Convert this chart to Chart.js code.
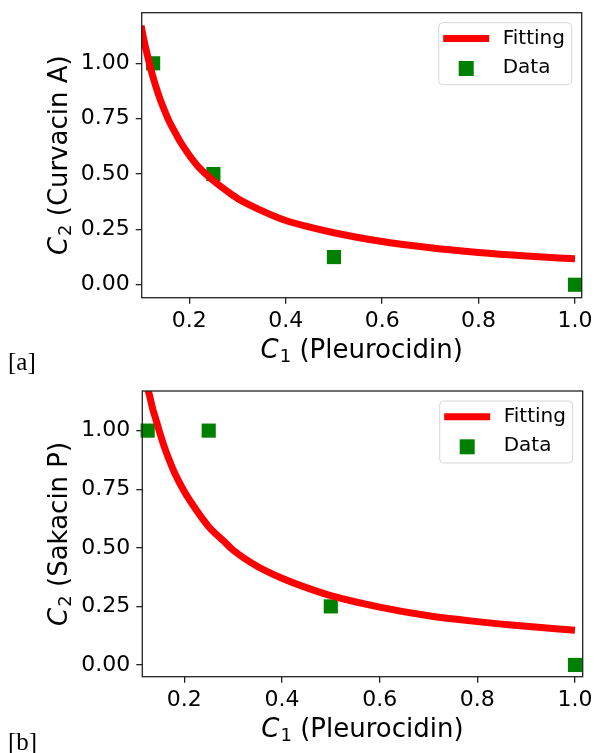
<!DOCTYPE html>
<html>
<head>
<meta charset="utf-8">
<script src="https://cdn.jsdelivr.net/npm/chart.js@4.4.0/dist/chart.umd.min.js"></script>
<style>
body { margin: 0; background: #fff; width: 597px; height: 753px; position: relative; overflow: hidden; }
canvas { position: absolute; left: 0; }
#chartA { top: 0; }
#chartB { top: 376px; }
.panel { position: absolute; left: 8px; font: 25px 'Liberation Serif'; line-height: 26px; color: #000; }
</style>
</head>
<body>
<canvas id="chartA" width="597" height="376"></canvas>
<canvas id="chartB" width="597" height="377"></canvas>
<div class="panel" style="top:349px">[a]</div>
<div class="panel" style="top:729px">[b]</div>
<script>
const xTickValues = [0.2, 0.4, 0.6, 0.8, 1.0]
const yTickValues = [0, 0.25, 0.5, 0.75, 1.0]

// measured points, C1 = Pleurocidin
const c1Data = [0.125, 0.25, 0.5, 1.0]
const curvacinData = [1.0, 0.5, 0.125, 0.0]
const sakacinData = [1.0, 1.0, 0.25, 0.0]

// fitted curves
const fitXA = [0.10, 0.105, 0.11, 0.115, 0.12, 0.13, 0.14, 0.15, 0.16, 0.17, 0.18, 0.20, 0.22, 0.25, 0.28, 0.30, 0.35, 0.40, 0.45, 0.50, 0.60, 0.70, 0.80, 0.90, 1.00]
const fitYA = [1.17, 1.115, 1.065, 1.02, 0.975, 0.90, 0.835, 0.78, 0.73, 0.69, 0.65, 0.585, 0.53, 0.47, 0.42, 0.39, 0.335, 0.29, 0.26, 0.235, 0.195, 0.167, 0.146, 0.13, 0.117]
const fitXB = [0.12, 0.125, 0.13, 0.135, 0.14, 0.15, 0.16, 0.17, 0.18, 0.20, 0.22, 0.25, 0.28, 0.30, 0.35, 0.40, 0.45, 0.50, 0.60, 0.70, 0.80, 0.90, 1.00]
const fitYB = [1.23, 1.18, 1.14, 1.095, 1.06, 0.99, 0.925, 0.87, 0.82, 0.74, 0.675, 0.59, 0.53, 0.49, 0.42, 0.37, 0.33, 0.296, 0.247, 0.21, 0.185, 0.165, 0.148]

const RED = '#ff0000'
const GREEN = '#008000'
const FONT = 'DejaVu Sans'

function drawMathLabel(ctx, sub, rest, x, y, rotate) {
    const ital = `italic 26px '${FONT}'`, small = `18px '${FONT}'`, big = `26px '${FONT}'`
    ctx.font = ital; const wC = ctx.measureText('C').width + 1
    ctx.font = small; const wS = ctx.measureText(sub).width
    ctx.font = big; const wR = ctx.measureText(rest).width
    const total = wC + wS + wR
    ctx.save()
    ctx.translate(x, y)
    if (rotate) ctx.rotate(-Math.PI / 2)
    ctx.textBaseline = 'alphabetic'
    ctx.textAlign = 'left'
    ctx.fillStyle = '#000'
    let cx = -total / 2
    ctx.font = ital; ctx.fillText('C', cx, 0); cx += wC
    ctx.font = small; ctx.fillText(sub, cx, 4); cx += wS
    ctx.font = big; ctx.fillText(rest, cx, 0)
    ctx.restore()
}

const axisDecor = {
    id: 'axisDecor',
    afterDraw(chart, args, opts) {
        const ctx = chart.ctx
        const a = chart.chartArea
        ctx.save()
        // frame
        ctx.strokeStyle = '#222'
        ctx.lineWidth = 1.3
        ctx.strokeRect(a.left, a.top, a.right - a.left, a.bottom - a.top)

        // legend box
        const lw = 133, lh = 62
        const lx = a.right - 10 - lw, ly = a.top + 10
        ctx.beginPath()
        ctx.roundRect(lx, ly, lw, lh, 4)
        ctx.fillStyle = 'rgba(255,255,255,0.8)'
        ctx.fill()
        ctx.strokeStyle = '#d6d6d6'
        ctx.lineWidth = 1
        ctx.stroke()

        ctx.beginPath()
        ctx.moveTo(lx + 4.5, ly + 15.8)
        ctx.lineTo(lx + 50.5, ly + 15.8)
        ctx.strokeStyle = RED
        ctx.lineWidth = 7
        ctx.stroke()
        ctx.fillStyle = GREEN
        ctx.fillRect(lx + 27.5 - 7.5, ly + 45.8 - 7.5, 15, 15)

        ctx.fillStyle = '#000'
        ctx.font = `20px '${FONT}'`
        ctx.textBaseline = 'middle'
        ctx.textAlign = 'left'
        ctx.fillText('Fitting', lx + 64, ly + 16)
        ctx.fillText('Data', lx + 64, ly + 45)

        // axis titles
        drawMathLabel(ctx, '1', ' (Pleurocidin)', (a.left + a.right) / 2, a.bottom + 60, false)
        drawMathLabel(ctx, '2', opts.yTitle, 67, (a.top + a.bottom) / 2, true)
        ctx.restore()
    }
}

function makeChart(id, fitX, fitY, dataY, yTitle, box) {
    const ctx = document.getElementById(id).getContext('2d')
    const canvasH = ctx.canvas.height
    return new Chart(ctx, {
        type: 'scatter',
        data: {
            datasets: [
                {
                    label: 'Fitting',
                    data: fitX.map((x, i) => ({ x: x, y: fitY[i] })),
                    showLine: true,
                    borderColor: RED,
                    borderWidth: 7,
                    pointRadius: 0,
                    cubicInterpolationMode: 'monotone',
                    borderJoinStyle: 'round',
                    clip: 0
                },
                {
                    label: 'Data',
                    data: c1Data.map((x, i) => ({ x: x, y: dataY[i] })),
                    pointStyle: 'rect',
                    pointRadius: 10,
                    pointBackgroundColor: GREEN,
                    pointBorderWidth: 0,
                    borderColor: GREEN,
                    clip: false
                }
            ]
        },
        options: {
            responsive: false,
            animation: false,
            events: [],
            layout: {
                padding: { left: 0, top: box.top, right: ctx.canvas.width - box.right, bottom: 0 }
            },
            plugins: {
                legend: { display: false },
                tooltip: { enabled: false },
                axisDecor: { yTitle: yTitle }
            },
            scales: {
                x: {
                    type: 'linear',
                    min: box.xMin,
                    max: box.xMax,
                    border: { display: false },
                    grid: { drawOnChartArea: false, drawTicks: true, tickLength: 6, color: '#222', lineWidth: 1.3 },
                    ticks: {
                        color: '#000',
                        font: { family: FONT, size: 22 },
                        padding: 4,
                        maxRotation: 0,
                        callback: v => v.toFixed(1)
                    },
                    afterBuildTicks: s => { s.ticks = xTickValues.map(v => ({ value: v })) },
                    afterFit: s => {
                        s.height = canvasH - box.bottom
                        s.paddingLeft = 0; s.paddingRight = 0
                    }
                },
                y: {
                    type: 'linear',
                    min: box.yMin,
                    max: box.yMax,
                    border: { display: false },
                    grid: { drawOnChartArea: false, drawTicks: true, tickLength: 6, color: '#222', lineWidth: 1.3 },
                    ticks: {
                        color: '#000',
                        font: { family: FONT, size: 22 },
                        padding: 6,
                        callback: v => v.toFixed(2)
                    },
                    afterBuildTicks: s => { s.ticks = yTickValues.map(v => ({ value: v })) },
                    afterFit: s => {
                        s.width = box.left
                        s.paddingTop = 0; s.paddingBottom = 0
                    }
                }
            }
        },
        plugins: [axisDecor]
    })
}

makeChart('chartA', fitXA, fitYA, curvacinData, ' (Curvacin A)', {
    left: 141.7, top: 12.7, right: 581.7, bottom: 297.7,
    xMin: 0.1013, xMax: 1.0139, yMin: -0.0585, yMax: 1.2285
})
makeChart('chartB', fitXB, fitYB, sakacinData, ' (Sakacin P)', {
    left: 142.3, top: 15, right: 582.7, bottom: 300.7,
    xMin: 0.114, xMax: 1.0158, yMin: -0.05, yMax: 1.169
})
</script>
</body>
</html>
